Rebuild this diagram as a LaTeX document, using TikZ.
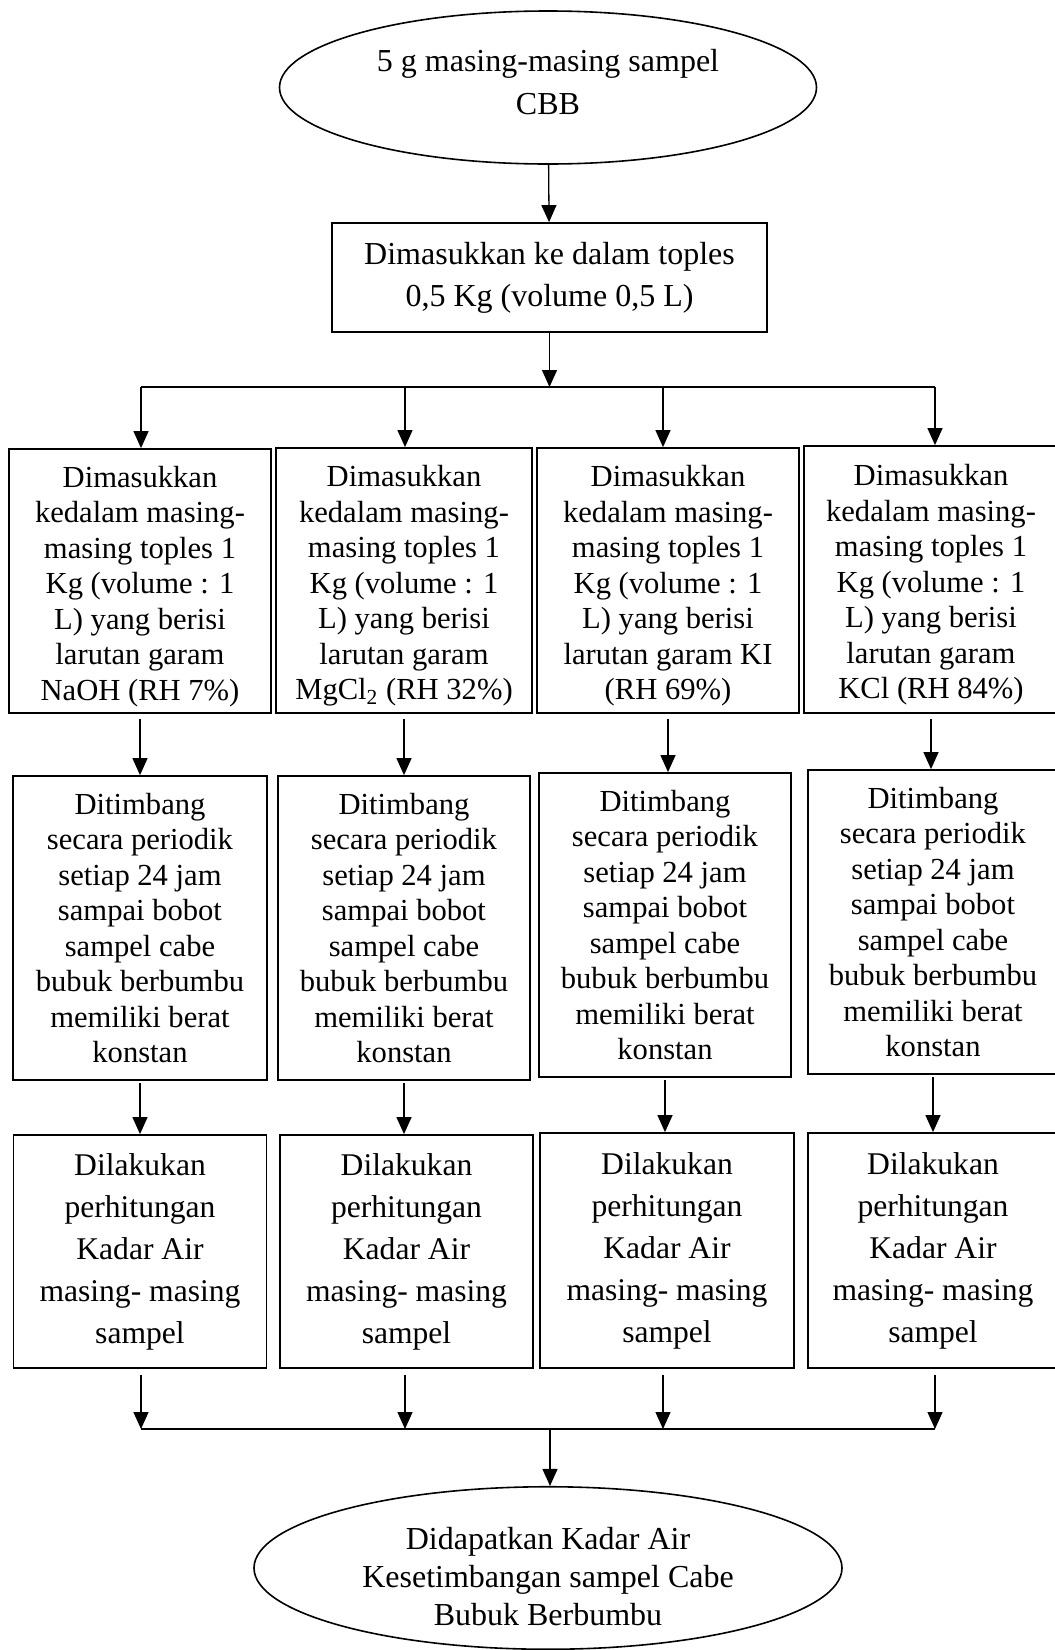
\documentclass[tikz,border=0pt]{standalone}
\usepackage{fontspec}
\setmainfont{Liberation Serif}
\usetikzlibrary{shapes.geometric,arrows.meta}

\begin{document}
\begin{tikzpicture}[x=0.5pt,y=-0.5pt,
    >={Triangle[length=8.5pt,width=7.5pt]},
    every node/.append style={font=\fontsize{15.3}{17.75}\selectfont},
    box/.style={draw,line width=0.9pt,align=center,inner sep=0pt},
    oval/.style={draw,ellipse,line width=0.8pt,align=center,inner sep=0pt},
    panah/.style={->,line width=0.65pt}]
\useasboundingbox (0,0) rectangle (1055,1650);

\node[oval,minimum width=268.5pt,minimum height=76.5pt,
      font=\fontsize{16}{21.5}\selectfont] (awal) at (548,87.5)
    {5 g masing-masing sampel\\CBB\rule[-5.5pt]{0pt}{0pt}};
\node[box,minimum width=217.5pt,minimum height=54.5pt,
      font=\fontsize{16}{21}\selectfont] (toples) at (549.5,277.5)
    {Dimasukkan ke dalam toples\\0,5 Kg (volume 0,5 L)};

\foreach \i/\x/\w/\y/\h/\garam in {
        1/140/262/581/264/{larutan garam\\NaOH (RH 7\%)},
        2/404/256/580.5/265/{larutan garam\\MgCl\textsubscript{2} (RH 32\%)},
        3/668/262/580.5/265/{larutan garam KI\\(RH 69\%)},
        4/931/254/579.5/267/{larutan garam\\KCl (RH 84\%)}}
    \node[box,minimum width=\w*0.5pt,minimum height=\h*0.5pt] (a\i)
        at (\x,\y) {\rule{0pt}{16pt}Dimasukkan\\kedalam masing-\\masing toples 1\\Kg (volume : 1\\L) yang berisi\\\garam};

\foreach \i/\x/\w/\y in {1/140/253.5/928, 2/404/252/928, 3/665/252/925, 4/933/250/922}
    \node[box,minimum width=\w*0.5pt,minimum height=152pt] (b\i)
        at (\x,\y) {Ditimbang\\secara periodik\\setiap 24 jam\\sampai bobot\\sampel cabe\\bubuk berbumbu\\memiliki berat\\konstan};

\foreach \i/\x/\w/\y/\h in {1/140/253/1251.5/233, 2/406.5/253/1251.5/233,
                            3/667/254/1250.5/235, 4/933/250/1250.5/235}
    \node[box,minimum width=\w*0.5pt,minimum height=\h*0.5pt,
          font=\fontsize{15.8}{21}\selectfont] (c\i)
        at (\x,\y) {Dilakukan\\perhitungan\\Kadar Air\\masing- masing\\sampel};

\node[oval,minimum width=294pt,minimum height=80.5pt,
      font=\fontsize{16}{18.9}\selectfont] (akhir) at (548,1568)
    {\rule{0pt}{19.5pt}Didapatkan Kadar Air\\Kesetimbangan sampel Cabe\\Bubuk Berbumbu};

\coordinate (cabang) at (549.5,387);
\coordinate (gabung) at (550,1429);
\foreach \i/\x in {1/141, 2/405, 3/663, 4/935} {
    \coordinate (s\i) at (\x,387);
    \coordinate (m\i) at (\x,1429);
}

\draw[panah] (awal) -- (toples);
\draw[panah] (toples) -- (cabang);
\draw[line width=0.65pt] (s1) -- (s4);
\draw[line width=0.65pt] (m1) -- (m4);
\foreach \i in {1,...,4} {
    \draw[panah] (s\i) -- (s\i |- a\i.north);
    \draw[panah,shorten <=2.5pt] (a\i.south) -- (a\i.south |- b\i.north);
    \draw[panah,shorten <=1pt] (b\i.south) -- (b\i.south |- c\i.north);
    \draw[panah,shorten <=3pt] (c\i.south -| m\i) -- (m\i);
}
\draw[panah] (gabung) -- (gabung |- akhir.north);
\end{tikzpicture}
\end{document}
